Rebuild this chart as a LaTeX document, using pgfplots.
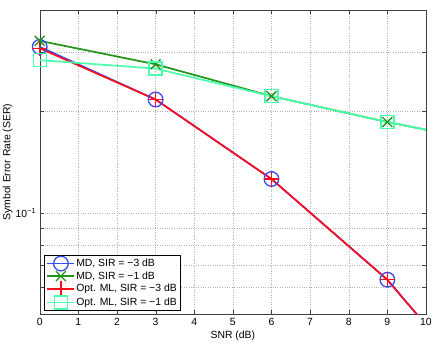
\documentclass[border=0pt]{standalone}
\usepackage{fontspec}
\setmainfont{Liberation Sans}
\usepackage{pgfplots}
\pgfplotsset{compat=1.18}
\definecolor{mblue}{rgb}{0.2,0.3,1}
\definecolor{mgreen}{rgb}{0.13,0.58,0.1}
\definecolor{mred}{rgb}{1,0.05,0.1}
\definecolor{maqua}{rgb}{0.3,1,0.68}
\begin{document}
\fontsize{10.4}{12}\selectfont
\begin{tikzpicture}
\begin{axis}[
  scale only axis, width=386pt, height=304pt,
  ymode=log, xmin=0, xmax=10, ymin=0.05, ymax=0.4,
  xtick={0,1,...,10},
  ytick={0.1}, yticklabels={10\textsuperscript{−1}},
  minor ytick={0.05,0.06,0.07,0.08,0.09,0.2,0.3,0.4},
  /pgf/number format/assume math mode=true,
  grid=both,
  major grid style={dotted, gray!60},
  minor grid style={dotted, gray!60},
  tick align=inside,
  major tick length=4pt, minor tick length=4pt,
  tick style={gray!50!black},
  axis line style={gray!50!black},
  ticklabel style={font=\fontsize{10.4}{12}\selectfont},
  xlabel={SNR (dB)}, ylabel={Symbol Error Rate (SER)},
  label style={font=\fontsize{10.4}{12}\selectfont},
  xlabel style={yshift=1pt},
  ylabel style={yshift=-4pt},
  legend style={at={(0.012,0.013)}, anchor=south west, draw=black, thin,
    font=\fontsize{10.4}{12}\selectfont, inner xsep=2pt, inner ysep=1pt, row sep=-0.3pt,
    nodes={inner sep=1pt}, cells={anchor=west}},
  legend image code/.code={\draw[mark=none] (0pt,0pt)--(27pt,0pt); \draw plot coordinates {(13.5pt,0pt)};},
  every axis plot/.append style={line width=1.7pt},
]
\addplot[mblue, mark=o, mark size=7.3pt, mark indices={1,2,3,4}, mark options={line width=1.3pt}]
  coordinates {(0,0.311)(3,0.217)(6,0.126)(9,0.0633)(10,0.0464)};
\addlegendentry{MD, SIR = −3 dB}
\addplot[mgreen, mark=x, mark size=7pt, mark indices={1,2,3,4}, mark options={line width=1.3pt}]
  coordinates {(0,0.324)(3,0.276)(6,0.222)(9,0.186)(10,0.1765)};
\addlegendentry{MD, SIR = −1 dB}
\addplot[mred, mark=+, mark size=7.5pt, mark indices={1,2,3,4}, mark options={line width=1.3pt}]
  coordinates {(0,0.308)(3,0.217)(6,0.126)(9,0.0633)(10,0.0464)};
\addlegendentry{Opt. ML, SIR = −3 dB}
\addplot[maqua, mark=square, mark size=6.5pt, mark indices={1,2,3,4}, mark options={line width=1.3pt}]
  coordinates {(0,0.284)(3,0.268)(6,0.222)(9,0.186)(10,0.1765)};
\addlegendentry{Opt. ML, SIR = −1 dB}
\end{axis}
\pgfresetboundingbox
\path ([shift={(-39.7pt,-29pt)}]current axis.south west) rectangle ([shift={(17pt,10pt)}]current axis.north east);
\end{tikzpicture}
\end{document}
